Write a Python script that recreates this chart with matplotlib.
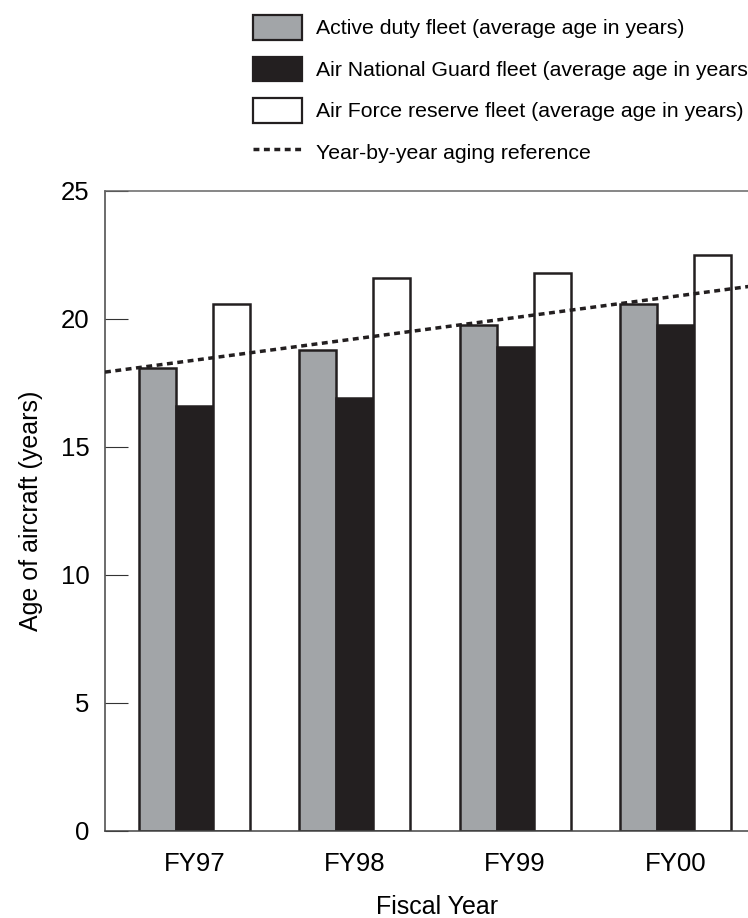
import matplotlib
matplotlib.use("Agg")
import matplotlib.pyplot as plt
import numpy as np
from matplotlib.patches import Patch
from matplotlib.lines import Line2D

plt.rcParams['font.family'] = ['Liberation Sans', 'DejaVu Sans']

years = ["FY97", "FY98", "FY99", "FY00"]
active_duty = [18.1, 18.8, 19.75, 20.6]
air_guard = [16.6, 16.9, 18.9, 19.75]
reserve = [20.6, 21.6, 21.8, 22.5]
aging_reference = [18.39, 19.22, 20.06, 20.89]

labels = ["Active duty fleet (average age in years)",
          "Air National Guard fleet (average age in years)",
          "Air Force reserve fleet (average age in years)",
          "Year-by-year aging reference"]

GRAY = "#a2a5a8"
DARK = "#231f20"

fig = plt.figure(figsize=(7.48, 9.18), dpi=100)
ax = fig.add_axes([105/748, 1 - 831/918, 665/748, (831 - 191)/918])

x = np.arange(len(years))
w = 0.231
ax.bar(x - w, active_duty, w, color=GRAY, edgecolor=DARK, linewidth=1.8, zorder=2)
ax.bar(x, air_guard, w, color=DARK, edgecolor=DARK, linewidth=1.8, zorder=2)
ax.bar(x + w, reserve, w, color="white", edgecolor=DARK, linewidth=1.8, zorder=2)

ref = ax.axline((x[0], aging_reference[0]), (x[-1], aging_reference[-1]),
                color=DARK, linewidth=2.5, zorder=3)
ref.set_dashes((1.7, 1.3))

ax.set_xlim(-0.557, 3.589)
ax.set_ylim(0, 25)
ax.set_yticks([0, 5, 10, 15, 20, 25])
ax.set_xticks(x)
ax.set_xticklabels(years)
ax.tick_params(axis='y', direction='in', length=16.5, width=0.8, color="#333333",
               labelsize=18.5, pad=11)
ax.tick_params(axis='x', length=0, labelsize=18.5, pad=15)
for s in ['left', 'bottom', 'top', 'right']:
    ax.spines[s].set_linewidth(1.1)
    ax.spines[s].set_color("#444444")
ax.spines['top'].set_color("#666666")

ax.set_ylabel("Age of aircraft (years)", fontsize=18, labelpad=13)
ax.set_xlabel("Fiscal Year", fontsize=18, labelpad=14)

handles = [Patch(facecolor=GRAY, edgecolor=DARK, linewidth=1.6),
           Patch(facecolor=DARK, edgecolor=DARK, linewidth=1.6),
           Patch(facecolor="white", edgecolor=DARK, linewidth=1.6),
           Line2D([0], [0], color=DARK, linewidth=2.5, dashes=(1.7, 1.3))]
fig.legend(handles, labels, loc='upper left', bbox_to_anchor=(253/748, 1 - 15/918),
           frameon=False, fontsize=15.3, handlelength=2.3, handleheight=1.4,
           handletextpad=0.68, labelspacing=0.8, borderpad=0, borderaxespad=0)

fig.savefig("out.png", dpi=100)
